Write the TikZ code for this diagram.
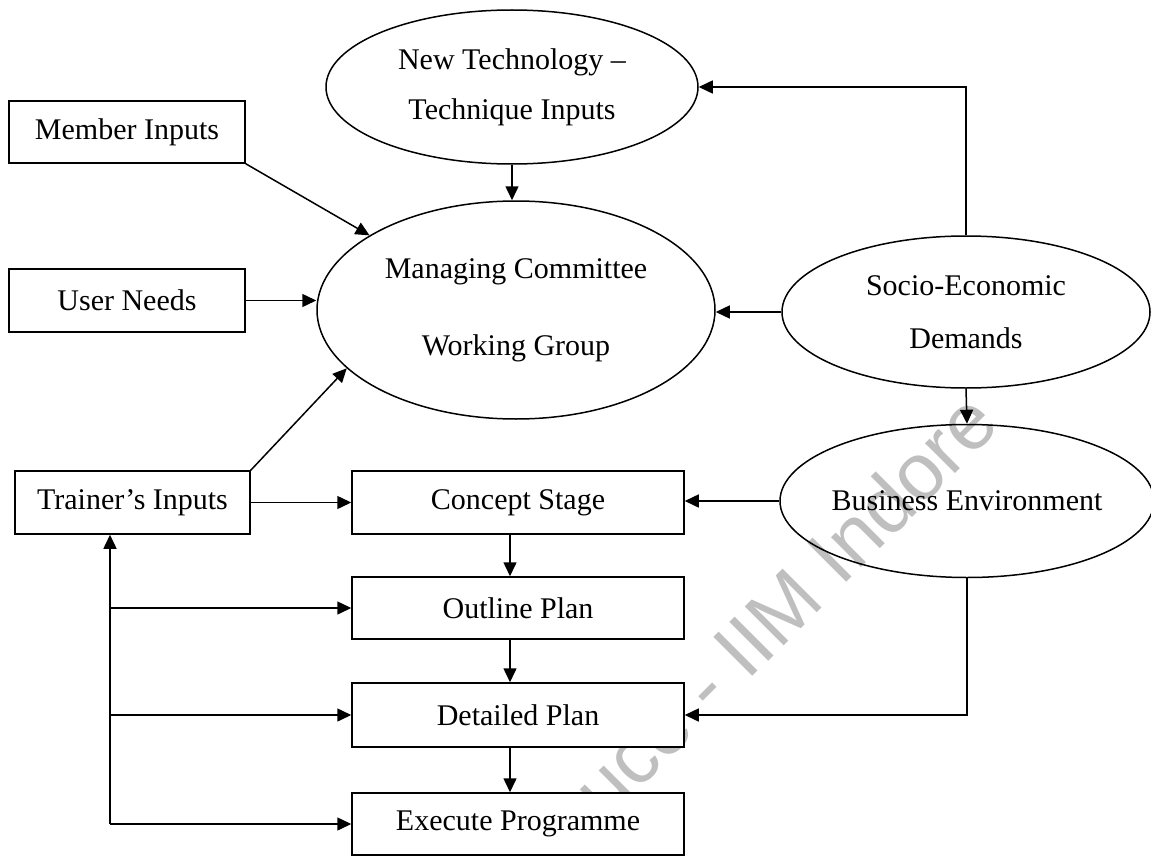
\documentclass[tikz,border=0pt]{standalone}
\usepackage{fontspec}
\setmainfont{Liberation Serif}
\newfontfamily\wmfont{Liberation Sans}
\usetikzlibrary{shapes.geometric,arrows.meta}
\begin{document}
\begin{tikzpicture}[x=1pt,y=-1pt,
  every node/.style={font=\fontsize{30}{36}\selectfont, inner sep=0pt},
  box/.style={draw, fill=white, line width=1.5pt, rectangle, minimum height=63pt},
  oval/.style={draw, line width=1.5pt, ellipse, align=center},
  arr/.style={line width=1.5pt, -{Triangle[length=14pt,width=13pt]}}]
\useasboundingbox (0,0) rectangle (1151,856);
\fill[white] (0,0) rectangle (1151,856);
\begin{scope}
\clip (0,0) rectangle (1151,856);
% watermark (behind everything)
\node[rotate=45, text=black!25, font=\wmfont\fontsize{80}{90}\selectfont] (wm) at (784,605) {uce - IIM Indore};
% ellipses
\node[oval, minimum width=372pt, minimum height=154pt, font=\fontsize{30}{50}\selectfont] (nt) at (512,87) {New Technology –\\Technique Inputs};
\node[oval, minimum width=398pt, minimum height=218pt, font=\fontsize{30}{77}\selectfont] (mc) at (516,310) {Managing Committee\\Working Group};
\node[oval, minimum width=368pt, minimum height=152pt, font=\fontsize{30}{53}\selectfont] (se) at (966,312) {Socio-Economic\\Demands};
\node[oval, minimum width=374pt, minimum height=153pt, inner xsep=-6pt] (be) at (967,501) {Business Environment};
% boxes
\node[box, minimum width=236pt, minimum height=62pt] (mi) at (127,132) {Member Inputs};
\node[box, minimum width=236pt] (un) at (127,300.5) {User Needs};
\node[box, minimum width=235pt] (ti) at (132.5,502.5) {Trainer’s Inputs};
\node[box, minimum width=332pt] (cs) at (518,502.5) {Concept Stage};
\node[box, minimum width=332pt, minimum height=62pt] (op) at (518,608) {Outline Plan};
\node[box, minimum width=332pt, minimum height=64pt] (dp) at (518,715) {Detailed Plan};
\node[box, minimum width=332pt, minimum height=62pt] (ep) at (518,824) {Execute Programme};
\coordinate (tx) at (110,0);
% connectors
\draw[arr] (nt.south) -- (nt.south |- mc.north);
\draw[arr] (mi.south east) -- (mc.153.6);
\draw[arr] (un.east) -- (un.east -| mc.west);
\draw[arr] (ti.north east) -- (mc.199.4);
\draw[arr] (se.west) -- (se.west -| mc.east);
\draw[arr] (se.north) |- (nt.east);
\draw[arr] (se.south) -- (be.north);
\draw[arr] (be.west) -- (be.west -| cs.east);
\draw[arr] (be.south) |- (dp.east);
\draw[arr] (ti.east) -- (cs.west);
\draw[arr] ([xshift=-8pt]cs.south) -- ([xshift=-8pt]op.north);
\draw[arr] ([xshift=-8pt]op.south) -- ([xshift=-8pt]dp.north);
\draw[arr] ([xshift=-8pt]dp.south) -- ([xshift=-8pt]ep.north);
\draw[arr] (op.west -| tx) -- (op.west);
\draw[arr] (dp.west -| tx) -- (dp.west);
\draw[arr] (ep.west -| tx) -- (ep.west);
\draw[arr] (ep.west -| tx) -- (ti.south -| tx);
\end{scope}
\end{tikzpicture}
\end{document}
